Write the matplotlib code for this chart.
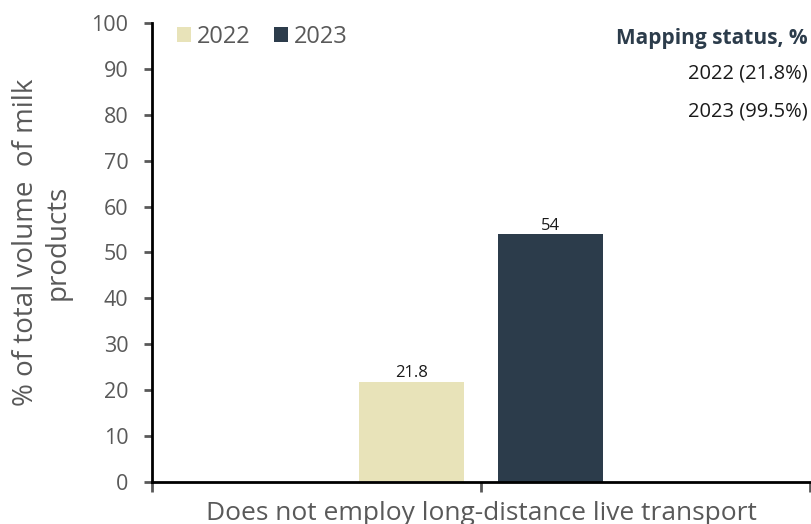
import matplotlib
matplotlib.use("Agg")
import matplotlib.pyplot as plt
import numpy as np

plt.rcParams['font.family'] = ['Open Sans', 'DejaVu Sans']

category = ["Does not employ long-distance live transport"]
years = ["2022", "2023"]
values_2022 = [21.8]
values_2023 = [54]
mapping_status = ["2022 (21.8%)", "2023 (99.5%)"]
yticks = list(range(0, 101, 10))

col_2022 = "#E8E3B9"
col_2023 = "#2C3C4B"
gray = "#595959"

fig = plt.figure(figsize=(8.11, 5.24), dpi=100)
ax = fig.add_axes([0.1874, 0.0802, 0.8114, 0.876])

x = np.arange(len(category))
w = 0.16
off = 0.106
b1 = ax.bar(x - off, values_2022, w, color=col_2022, label=years[0])
b2 = ax.bar(x + off, values_2023, w, color=col_2023, label=years[1])

for bars, vals in ((b1, values_2022), (b2, values_2023)):
    for r, v in zip(bars, vals):
        ax.text(r.get_x() + r.get_width() / 2, v + 0.1, f"{v:g}",
                ha="center", va="bottom", fontsize=12, color="#1a1a1a")

ax.set_xlim(-0.5, 0.5)
ax.set_ylim(0, 100)
ax.set_yticks(yticks)
ax.set_xticks([-0.5, 0, 0.5])
ax.set_xticklabels(["", category[0], ""])
ax.tick_params(axis="y", direction="out", length=6, width=2, colors=gray,
               labelsize=15.5, pad=11)
ax.tick_params(axis="x", direction="out", length=7, width=2, colors=gray,
               labelsize=19, pad=7)
for t in ax.get_yticklines() + ax.get_xticklines():
    t.set_color("black")

for s in ("top", "right"):
    ax.spines[s].set_visible(False)
for s in ("left", "bottom"):
    ax.spines[s].set_linewidth(2)
    ax.spines[s].set_color("black")

fig.text(42 / 811, 1 - 242 / 524, "% of total volume  of milk\nproducts",
         rotation=90, ha="center", va="center", multialignment="center",
         fontsize=20, color=gray, linespacing=1.2)

leg = ax.legend(loc="center left", bbox_to_anchor=(0.038, 0.9695), ncol=2,
                frameon=False, fontsize=17, handlelength=0.6, handleheight=0.6,
                handletextpad=0.25, columnspacing=1.0, borderpad=0,
                borderaxespad=0)
for t in leg.get_texts():
    t.set_color(gray)

fig.text(0.996, 0.927, "Mapping status, %", ha="right", va="center",
         fontsize=15, fontweight="bold", color="#2C3C4B")
fig.text(0.996, 0.859, mapping_status[0], ha="right", va="center",
         fontsize=14.5, color="#1a1a1a")
fig.text(0.996, 0.788, mapping_status[1], ha="right", va="center",
         fontsize=14.5, color="#1a1a1a")

fig.savefig("out.png", dpi=100)
